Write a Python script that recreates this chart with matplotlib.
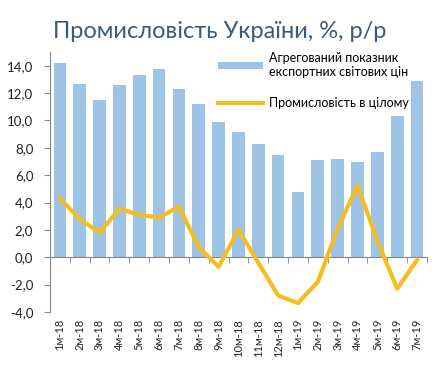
import matplotlib.pyplot as plt
import numpy as np

months = ["1м-18", "2м-18", "3м-18", "4м-18", "5м-18", "6м-18", "7м-18", "8м-18",
          "9м-18", "10м-18", "11м-18", "12м-18", "1м-19", "2м-19", "3м-19", "4м-19",
          "5м-19", "6м-19", "7м-19"]
export_prices = [14.2, 12.7, 11.5, 12.6, 13.3, 13.8, 12.3, 11.2, 9.9, 9.15, 8.3, 7.5,
                 4.75, 7.1, 7.2, 7.0, 7.7, 10.3, 12.9]
industry = [4.3, 2.8, 1.8, 3.55, 3.1, 2.9, 3.7, 0.75, -0.7, 2.0, -0.4, -2.8,
            -3.35, -1.8, 2.1, 5.25, 1.2, -2.3, -0.2]

plt.rcParams['font.family'] = ['Lato', 'DejaVu Sans']

fig = plt.figure(figsize=(4.42, 3.67), dpi=100)
ax = fig.add_axes([0.113, 0.150, 0.853, 0.708])

x = np.arange(len(months))
bars = ax.bar(x, export_prices, width=0.64, color='#9DC3E6', zorder=2,
              label='Агрегований показник\nекспортних світових цін')
line, = ax.plot(x, industry, color='#F5BD1F', lw=3, zorder=3,
                label='Промисловість в цілому')

ax.set_xlim(-0.5, len(months) - 0.5)
ax.set_ylim(-4, 15)
ax.set_yticks(np.arange(-4, 15, 2))
ax.set_yticklabels([f"{v:.1f}".replace('.', ',') for v in np.arange(-4, 15, 2)])

for s in ['top', 'right']:
    ax.spines[s].set_visible(False)
ax.spines['left'].set_color('#868686')
ax.spines['bottom'].set_color('#868686')
ax.spines['bottom'].set_position(('data', 0))

# ticks on zero line at category boundaries, labels below the plot
ax.set_xticks(x)
ax.set_xticks(np.arange(-0.5, len(months), 1), minor=True)
ax.tick_params(axis='x', which='major', length=0, labelbottom=False)
ax.tick_params(axis='x', which='minor', length=4, color='#868686', direction='out')
ax.tick_params(axis='y', length=4, color='#868686', labelsize=9.5, labelcolor='#222222', pad=8)

sec = ax.secondary_xaxis(0.0)
sec.set_xticks(x)
sec.set_xticklabels(months, rotation=90, fontsize=8, color='#222222')
sec.tick_params(length=0, pad=5)
sec.spines['bottom'].set_visible(False)

fig.text(0.12, 0.915, 'Промисловість України, %, р/р', fontsize=17,
         color='#3B5B7B', va='center', ha='left')

leg = ax.legend([bars, line], [bars.get_label(), line.get_label()],
                loc='upper left', bbox_to_anchor=(0.478, 0.875),
                bbox_transform=fig.transFigure, frameon=False, fontsize=9,
                handlelength=3.6, handleheight=0.5, handletextpad=0.5,
                labelspacing=1.5, borderpad=0)
for t in leg.get_texts():
    t.set_multialignment('left')

fig.savefig('out.png', dpi=100)
